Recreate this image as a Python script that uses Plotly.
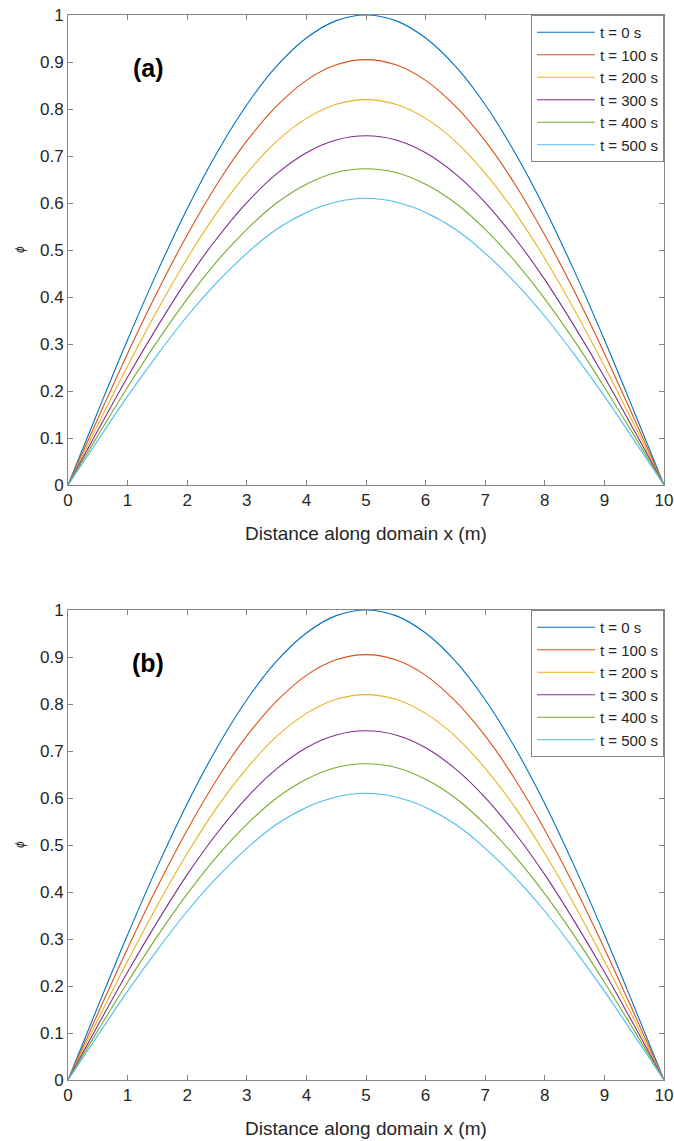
import plotly.graph_objects as go

x_vals = [0, 0.5, 1, 1.5, 2, 2.5, 3, 3.5, 4, 4.5, 5, 5.5, 6, 6.5, 7, 7.5, 8, 8.5, 9, 9.5, 10]

phi_t0 = [0, 0.156, 0.309, 0.454, 0.588, 0.707, 0.809, 0.891, 0.951, 0.988, 1.000,
          0.988, 0.951, 0.891, 0.809, 0.707, 0.588, 0.454, 0.309, 0.156, 0]
phi_t100 = [0, 0.141, 0.280, 0.411, 0.532, 0.640, 0.732, 0.806, 0.861, 0.894, 0.905,
            0.894, 0.861, 0.806, 0.732, 0.640, 0.532, 0.411, 0.280, 0.141, 0]
phi_t200 = [0, 0.128, 0.253, 0.372, 0.482, 0.580, 0.663, 0.731, 0.780, 0.810, 0.820,
            0.810, 0.780, 0.731, 0.663, 0.580, 0.482, 0.372, 0.253, 0.128, 0]
phi_t300 = [0, 0.116, 0.230, 0.337, 0.437, 0.525, 0.601, 0.662, 0.707, 0.734, 0.743,
            0.734, 0.707, 0.662, 0.601, 0.525, 0.437, 0.337, 0.230, 0.116, 0]
phi_t400 = [0, 0.105, 0.208, 0.306, 0.396, 0.476, 0.544, 0.600, 0.640, 0.665, 0.673,
            0.665, 0.640, 0.600, 0.544, 0.476, 0.396, 0.306, 0.208, 0.105, 0]
phi_t500 = [0, 0.095, 0.189, 0.277, 0.359, 0.431, 0.493, 0.544, 0.580, 0.602, 0.610,
            0.602, 0.580, 0.544, 0.493, 0.431, 0.359, 0.277, 0.189, 0.095, 0]

series_names = ["t = 0 s", "t = 100 s", "t = 200 s", "t = 300 s", "t = 400 s", "t = 500 s"]
series_values = [phi_t0, phi_t100, phi_t200, phi_t300, phi_t400, phi_t500]
colors = ["#0072BD", "#D95319", "#EDB120", "#7E2F8E", "#77AC30", "#4DBEEE"]

panel_labels = ["(a)", "(b)"]
x_title = "Distance along domain x (m)"
y_title = "ϕ"

W, H = 674, 1141
FONT = "Liberation Sans, Arial, sans-serif"

def py(px):
    return 1 - px / H

x_dom = [68 / W, 664 / W]
panels = [
    dict(top=15, bottom=485),
    dict(top=610, bottom=1080),
]

fig = go.Figure()

for i, p in enumerate(panels):
    xa = "x" if i == 0 else "x2"
    ya = "y" if i == 0 else "y2"
    lg = "legend" if i == 0 else "legend2"
    for name, vals, c in zip(series_names, series_values, colors):
        fig.add_trace(go.Scatter(
            x=x_vals, y=vals, name=name, mode="lines",
            line=dict(color=c, width=1.1, shape="spline", smoothing=1.0),
            xaxis=xa, yaxis=ya, legend=lg, showlegend=True, cliponaxis=False,
        ))

axis_common = dict(
    showline=True, linecolor="#868686", linewidth=1, mirror="ticks",
    ticks="inside", ticklen=5, tickcolor="#868686", tickwidth=1,
    showgrid=False, zeroline=False, automargin=False,
    tickfont=dict(family=FONT, size=17, color="#262626"),
)

layout = dict(
    width=W, height=H,
    margin=dict(l=0, r=0, t=0, b=0, autoexpand=False),
    plot_bgcolor="white", paper_bgcolor="white",
    showlegend=True,
)

for i, p in enumerate(panels):
    sfx = "" if i == 0 else "2"
    y_dom = [py(p["bottom"]), py(p["top"])]
    layout["xaxis" + sfx] = dict(axis_common, domain=x_dom, range=[0, 10], dtick=1, tick0=0,
                                 anchor="y" + sfx)
    layout["yaxis" + sfx] = dict(axis_common, domain=y_dom, range=[0, 1], dtick=0.1, tick0=0,
                                 anchor="x" + sfx)
    layout["legend" + sfx] = dict(
        x=x_dom[1], y=py(p["top"]), xanchor="right", yanchor="top",
        bgcolor="white", bordercolor="#868686", borderwidth=1,
        font=dict(family=FONT, size=15, color="#262626"),
        tracegroupgap=0, itemwidth=58,
    )

fig.update_layout(**layout)

annotations = []
for i, p in enumerate(panels):
    mid = (p["top"] + p["bottom"]) / 2
    annotations.append(dict(
        text=x_title, x=(x_dom[0] + x_dom[1]) / 2, y=py(p["bottom"] + 48),
        xref="paper", yref="paper", showarrow=False, xanchor="center", yanchor="middle",
        font=dict(family=FONT, size=19, color="#262626"),
    ))
    annotations.append(dict(
        text="<i>" + y_title + "</i>", x=20 / W, y=py(mid),
        xref="paper", yref="paper", showarrow=False, xanchor="center", yanchor="middle",
        textangle=-90, font=dict(family=FONT, size=12, color="#262626"),
    ))
    annotations.append(dict(
        text="<b>" + panel_labels[i] + "</b>", x=148 / W, y=py(p["top"] + 53),
        xref="paper", yref="paper", showarrow=False, xanchor="center", yanchor="middle",
        font=dict(family=FONT, size=25, color="black"),
    ))
fig.update_layout(annotations=annotations)

fig.write_html(
    "out.html",
    config={"displayModeBar": False},
    post_script="document.body.style.margin='0px';document.body.style.overflow='hidden';",
)
